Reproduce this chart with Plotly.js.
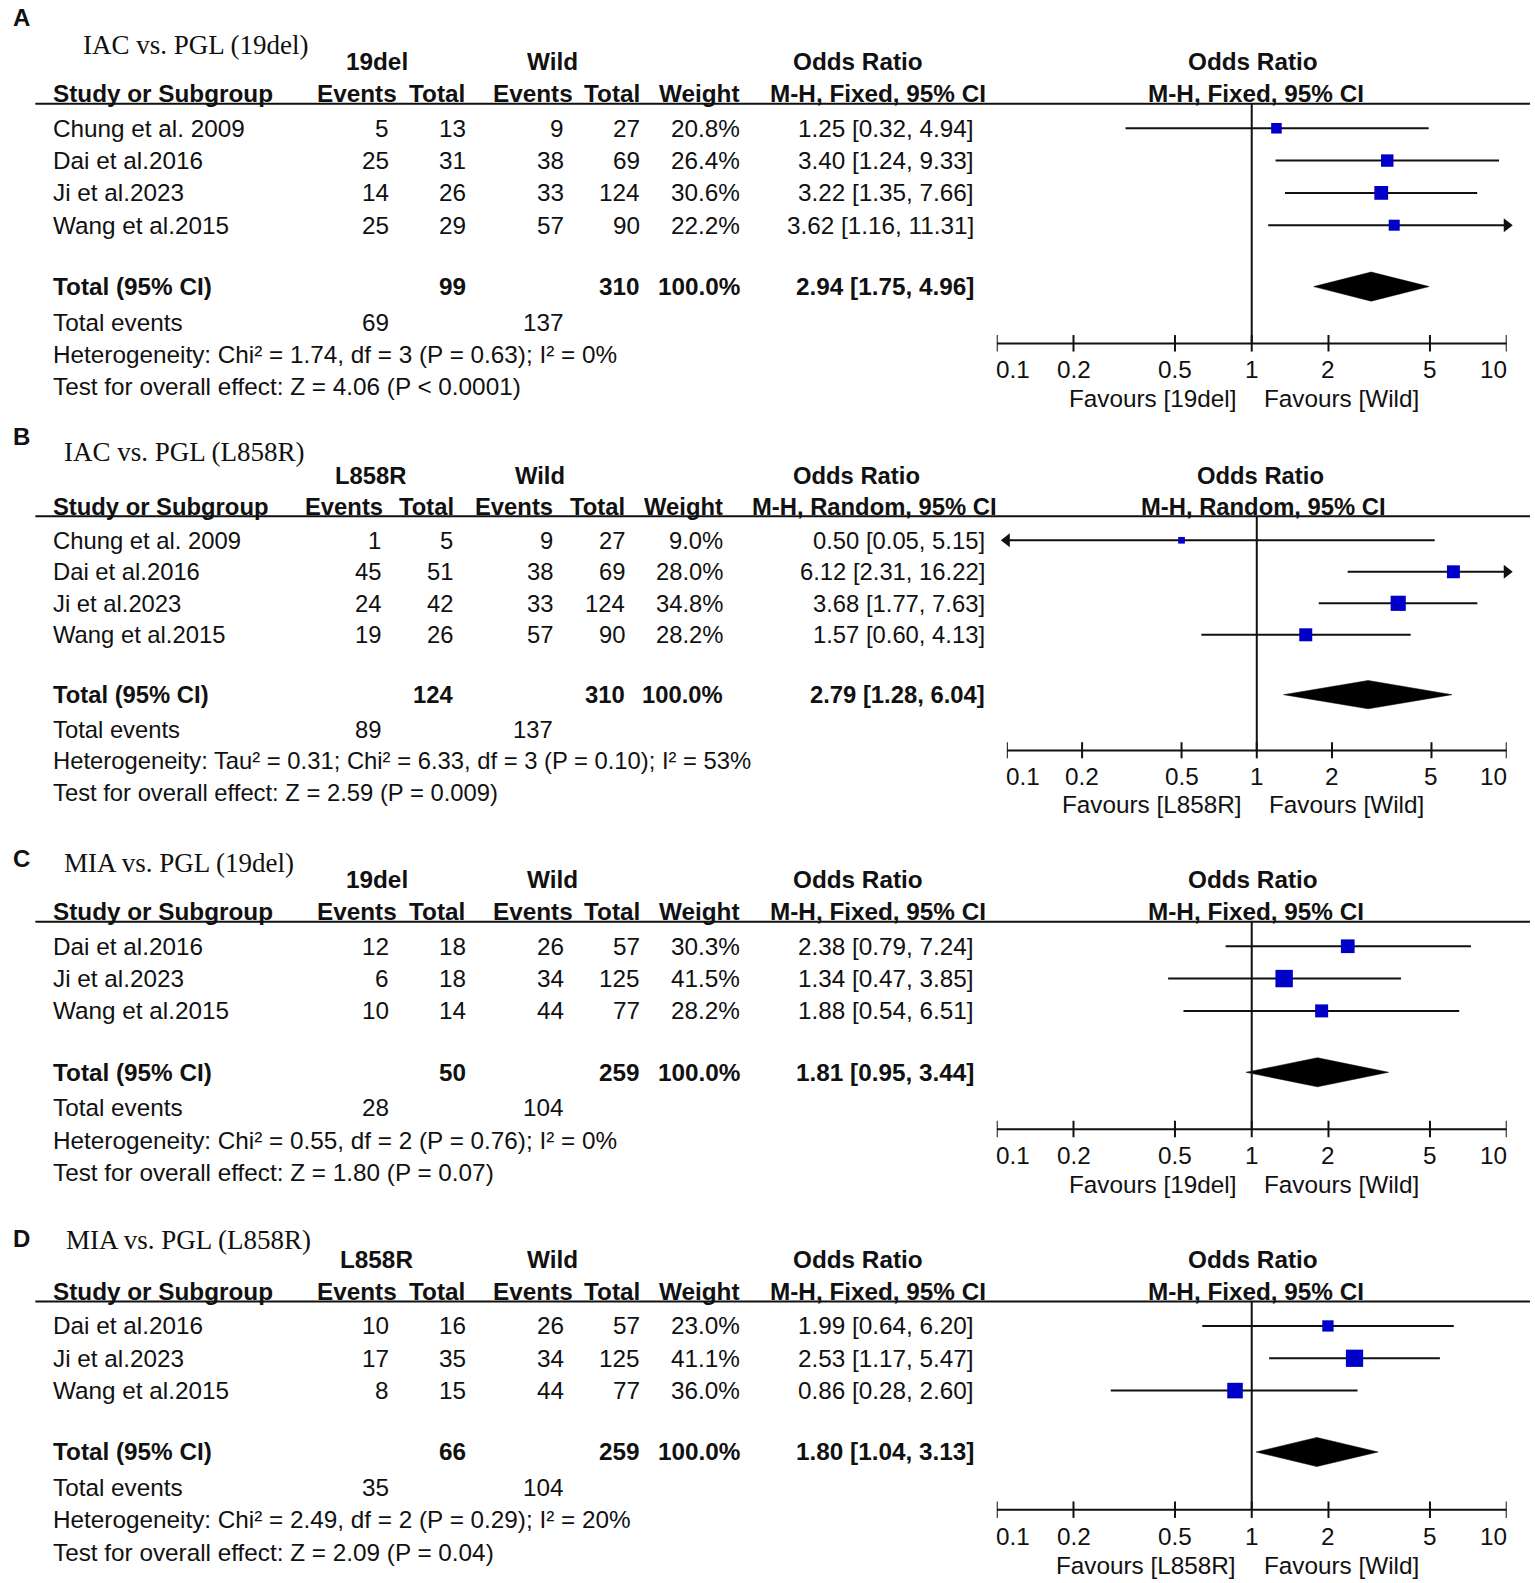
<!DOCTYPE html>
<html><head><meta charset="utf-8">
<script src="https://cdn.plot.ly/plotly-3.0.1.min.js"></script>
<style>html,body{margin:0;padding:0;background:#fff;overflow:hidden}#chart{width:1535px;height:1583px}</style>
</head><body><div id="chart"></div>
<script>
// ---------- DATA ----------
// Panel A
const A_title = "IAC vs. PGL (19del)";
const A_group = "19del";
const A_model = "M-H, Fixed, 95% CI";
const A_studies = ["Chung et al. 2009", "Dai et al.2016", "Ji et al.2023", "Wang et al.2015"];
const A_ev1 = [5, 25, 14, 25];
const A_tot1 = [13, 31, 26, 29];
const A_ev2 = [9, 38, 33, 57];
const A_tot2 = [27, 69, 124, 90];
const A_weight = [20.8, 26.4, 30.6, 22.2];
const A_or = [1.25, 3.40, 3.22, 3.62];
const A_lo = [0.32, 1.24, 1.35, 1.16];
const A_hi = [4.94, 9.33, 7.66, 11.31];
const A_totals = [99, 310, 100.0];
const A_totalOR = [2.94, 1.75, 4.96];
const A_totalEvents = [69, 137];
const A_het = "Heterogeneity: Chi² = 1.74, df = 3 (P = 0.63); I² = 0%";
const A_test = "Test for overall effect: Z = 4.06 (P < 0.0001)";

// Panel B
const B_title = "IAC vs. PGL (L858R)";
const B_group = "L858R";
const B_model = "M-H, Random, 95% CI";
const B_studies = ["Chung et al. 2009", "Dai et al.2016", "Ji et al.2023", "Wang et al.2015"];
const B_ev1 = [1, 45, 24, 19];
const B_tot1 = [5, 51, 42, 26];
const B_ev2 = [9, 38, 33, 57];
const B_tot2 = [27, 69, 124, 90];
const B_weight = [9.0, 28.0, 34.8, 28.2];
const B_or = [0.50, 6.12, 3.68, 1.57];
const B_lo = [0.05, 2.31, 1.77, 0.60];
const B_hi = [5.15, 16.22, 7.63, 4.13];
const B_totals = [124, 310, 100.0];
const B_totalOR = [2.79, 1.28, 6.04];
const B_totalEvents = [89, 137];
const B_het = "Heterogeneity: Tau² = 0.31; Chi² = 6.33, df = 3 (P = 0.10); I² = 53%";
const B_test = "Test for overall effect: Z = 2.59 (P = 0.009)";

// Panel C
const C_title = "MIA vs. PGL (19del)";
const C_group = "19del";
const C_model = "M-H, Fixed, 95% CI";
const C_studies = ["Dai et al.2016", "Ji et al.2023", "Wang et al.2015"];
const C_ev1 = [12, 6, 10];
const C_tot1 = [18, 18, 14];
const C_ev2 = [26, 34, 44];
const C_tot2 = [57, 125, 77];
const C_weight = [30.3, 41.5, 28.2];
const C_or = [2.38, 1.34, 1.88];
const C_lo = [0.79, 0.47, 0.54];
const C_hi = [7.24, 3.85, 6.51];
const C_totals = [50, 259, 100.0];
const C_totalOR = [1.81, 0.95, 3.44];
const C_totalEvents = [28, 104];
const C_het = "Heterogeneity: Chi² = 0.55, df = 2 (P = 0.76); I² = 0%";
const C_test = "Test for overall effect: Z = 1.80 (P = 0.07)";

// Panel D
const D_title = "MIA vs. PGL (L858R)";
const D_group = "L858R";
const D_model = "M-H, Fixed, 95% CI";
const D_studies = ["Dai et al.2016", "Ji et al.2023", "Wang et al.2015"];
const D_ev1 = [10, 17, 8];
const D_tot1 = [16, 35, 15];
const D_ev2 = [26, 34, 44];
const D_tot2 = [57, 125, 77];
const D_weight = [23.0, 41.1, 36.0];
const D_or = [1.99, 2.53, 0.86];
const D_lo = [0.64, 1.17, 0.28];
const D_hi = [6.20, 5.47, 2.60];
const D_totals = [66, 259, 100.0];
const D_totalOR = [1.80, 1.04, 3.13];
const D_totalEvents = [35, 104];
const D_het = "Heterogeneity: Chi² = 2.49, df = 2 (P = 0.29); I² = 20%";
const D_test = "Test for overall effect: Z = 2.09 (P = 0.04)";

const tickVals = [0.1, 0.2, 0.5, 1, 2, 5, 10];
const tickText = ["0.1", "0.2", "0.5", "1", "2", "5", "10"];

// ---------- BUILD ----------
const datasets = [
  {letter:"A", title:A_title, group:A_group, model:A_model, studies:A_studies, ev1:A_ev1, tot1:A_tot1, ev2:A_ev2, tot2:A_tot2, weight:A_weight, or:A_or, lo:A_lo, hi:A_hi, totals:A_totals, totalOR:A_totalOR, totalEvents:A_totalEvents, het:A_het, test:A_test},
  {letter:"B", title:B_title, group:B_group, model:B_model, studies:B_studies, ev1:B_ev1, tot1:B_tot1, ev2:B_ev2, tot2:B_tot2, weight:B_weight, or:B_or, lo:B_lo, hi:B_hi, totals:B_totals, totalOR:B_totalOR, totalEvents:B_totalEvents, het:B_het, test:B_test},
  {letter:"C", title:C_title, group:C_group, model:C_model, studies:C_studies, ev1:C_ev1, tot1:C_tot1, ev2:C_ev2, tot2:C_tot2, weight:C_weight, or:C_or, lo:C_lo, hi:C_hi, totals:C_totals, totalOR:C_totalOR, totalEvents:C_totalEvents, het:C_het, test:C_test},
  {letter:"D", title:D_title, group:D_group, model:D_model, studies:D_studies, ev1:D_ev1, tot1:D_tot1, ev2:D_ev2, tot2:D_tot2, weight:D_weight, or:D_or, lo:D_lo, hi:D_hi, totals:D_totals, totalOR:D_totalOR, totalEvents:D_totalEvents, het:D_het, test:D_test}
];

const W = 1535, H = 1583;
const K = 1535 / 1520;               // layout positions below are measured on a 1520-wide view
const px = v => v * K / W;
const py = v => 1 - v * K / H;
const TXT = '#111111';
const BLUE = '#0000c8';
const SANS = '"Liberation Sans", Arial, Helvetica, sans-serif';
const SERIF = '"Liberation Serif", "Times New Roman", serif';
const PAD_L = 3, PAD_R = 1;           // annotation box padding compensation

const colsFixed = {name:53, ev1:386, tot1:462, ev2:559, tot2:635, w:734, ci:965,
  hEv1:394, hTot1:461, hEv2:568, hTot2:635, hW:734, hModel:869, g1:373, g2:547, gOR:850, rHead:1241};
const colsB = {name:53, ev1:378, tot1:450, ev2:549, tot2:620, w:717, ci:976,
  hEv1:380, hTot1:451, hEv2:549, hTot2:620, hW:717, hModel:866, g1:367, g2:535, gOR:848, rHead:1248};

const panelsLayout = [
  {letterY:17, titleX:80, titleY:45, r0:127, s:32, top:0, bot:415, ax0:987, ax1:1492, axisOff:2.66, fs:24.3, cols:colsFixed, favL:14, favR:10},
  {letterY:432, titleX:61, titleY:448, r0:535, s:31.2, top:415, bot:820, ax0:997, ax1:1492, axisOff:2.67, fs:23.8, cols:colsB, favL:13, favR:10},
  {letterY:850, titleX:61, titleY:855, r0:937, s:32, top:820, bot:1195, ax0:987, ax1:1492, axisOff:2.66, fs:24.3, cols:colsFixed, favL:14, favR:10},
  {letterY:1226, titleX:63, titleY:1228, r0:1313, s:32, top:1195, bot:1566, ax0:987, ax1:1492, axisOff:2.69, fs:24.3, cols:colsFixed, favL:14, favR:10}
];

const traces = [], annotations = [], shapes = [];
const layout = {
  width: W, height: H, margin:{l:0, r:0, t:0, b:0},
  paper_bgcolor:'#ffffff', plot_bgcolor:'rgba(0,0,0,0)', showlegend:false,
  font:{family:SANS, color:TXT}
};

const XMIN = 0.1, XMAX = 10;
const clip = v => Math.min(XMAX, Math.max(XMIN, v));
const f2 = v => v.toFixed(2);
const ciText = (o, l, h) => f2(o) + " [" + f2(l) + ", " + f2(h) + "]";

panelsLayout.forEach((P, i) => {
  const D = datasets[i];
  const k = i === 0 ? '' : String(i + 1);
  const xa = 'x' + k, ya = 'y' + k;
  const n = D.studies.length;
  const rows = D.studies.map((_, j) => j);
  const rowHead1 = -2.07, rowHead2 = -1.08, rowLine = -0.76;
  const rowTotal = n + 0.9, rowTotEv = n + 2, rowHet = n + 3, rowTest = n + 4;
  const rowAxis = n + P.axisOff;
  const C = P.cols;

  layout['xaxis' + k] = {domain:[px(P.ax0), px(P.ax1)], type:'log', range:[Math.log10(XMIN), Math.log10(XMAX)],
    anchor:ya, visible:false, fixedrange:true};
  layout['yaxis' + k] = {domain:[py(P.bot), py(P.top)], range:[(P.bot - P.r0) / P.s, (P.top - P.r0) / P.s],
    anchor:xa, visible:false, fixedrange:true};

  const txt = (text, xPx, row, anchor) => annotations.push({
    text:text, x:px(xPx), xref:'paper', y:row, yref:ya, xanchor:anchor, yanchor:'middle',
    xshift: anchor === 'left' ? -PAD_L : (anchor === 'right' ? PAD_R : 0),
    showarrow:false, font:{family:SANS, size:P.fs, color:TXT}
  });

  // panel letter and title
  annotations.push({text:'<b>' + D.letter + '</b>', x:px(11), xref:'paper', y:py(P.letterY), yref:'paper',
    xanchor:'left', yanchor:'middle', showarrow:false, font:{family:SANS, size:24, color:TXT}});
  annotations.push({text:D.title, x:px(P.titleX), xref:'paper', y:py(P.titleY), yref:'paper',
    xanchor:'left', yanchor:'middle', showarrow:false, font:{family:SERIF, size:27, color:TXT}});

  // headers
  txt('<b>' + D.group + '</b>', C.g1, rowHead1, 'center');
  txt('<b>Wild</b>', C.g2, rowHead1, 'center');
  txt('<b>Odds Ratio</b>', C.gOR, rowHead1, 'center');
  txt('<b>Odds Ratio</b>', C.rHead, rowHead1, 'center');
  txt('<b>Study or Subgroup</b>', C.name, rowHead2, 'left');
  txt('<b>Events</b>', C.hEv1, rowHead2, 'right');
  txt('<b>Total</b>', C.hTot1, rowHead2, 'right');
  txt('<b>Events</b>', C.hEv2, rowHead2, 'right');
  txt('<b>Total</b>', C.hTot2, rowHead2, 'right');
  txt('<b>Weight</b>', C.hW, rowHead2, 'right');
  txt('<b>' + D.model + '</b>', C.hModel, rowHead2, 'center');
  txt('<b>' + D.model + '</b>', C.rHead + 3, rowHead2, 'center');

  // study rows
  rows.forEach(j => {
    txt(D.studies[j], C.name, j, 'left');
    txt(String(D.ev1[j]), C.ev1, j, 'right');
    txt(String(D.tot1[j]), C.tot1, j, 'right');
    txt(String(D.ev2[j]), C.ev2, j, 'right');
    txt(String(D.tot2[j]), C.tot2, j, 'right');
    txt(D.weight[j].toFixed(1) + '%', C.w, j, 'right');
    txt(ciText(D.or[j], D.lo[j], D.hi[j]), C.ci, j, 'right');
  });
  // total row
  txt('<b>Total (95% CI)</b>', C.name, rowTotal, 'left');
  txt('<b>' + D.totals[0] + '</b>', C.tot1, rowTotal, 'right');
  txt('<b>' + D.totals[1] + '</b>', C.tot2, rowTotal, 'right');
  txt('<b>' + D.totals[2].toFixed(1) + '%</b>', C.w, rowTotal, 'right');
  txt('<b>' + ciText(D.totalOR[0], D.totalOR[1], D.totalOR[2]) + '</b>', C.ci, rowTotal, 'right');
  txt('Total events', C.name, rowTotEv, 'left');
  txt(String(D.totalEvents[0]), C.ev1, rowTotEv, 'right');
  txt(String(D.totalEvents[1]), C.ev2, rowTotEv, 'right');
  txt(D.het, C.name, rowHet, 'left');
  txt(D.test, C.name, rowTest, 'left');

  // header line across
  shapes.push({type:'line', xref:'paper', yref:ya, x0:px(35), x1:px(1515), y0:rowLine, y1:rowLine,
    line:{color:TXT, width:2}});
  // vertical line at OR = 1
  shapes.push({type:'line', xref:xa, yref:ya, x0:1, x1:1, y0:rowLine, y1:rowAxis, line:{color:TXT, width:2}});
  // axis line
  shapes.push({type:'line', xref:xa, yref:ya, x0:XMIN, x1:XMAX, y0:rowAxis, y1:rowAxis, line:{color:TXT, width:2}});
  // ticks crossing the axis
  tickVals.forEach((tv, t) => {
    shapes.push({type:'line', xref:xa, yref:ya, x0:tv, x1:tv, y0:rowAxis - 0.26, y1:rowAxis + 0.25,
      line:{color:TXT, width:2}});
    annotations.push({text:tickText[t], x:Math.log10(tv), xref:xa, y:rowAxis + 0.82, yref:ya,
      xanchor: t === 0 ? 'left' : (t === tickVals.length - 1 ? 'right' : 'center'),
      xshift: t === 0 ? -3 : (t === tickVals.length - 1 ? 2 : 0),
      yanchor:'middle', showarrow:false, font:{family:SANS, size:24.3, color:TXT}});
  });
  // favours labels
  annotations.push({text:'Favours [' + D.group + ']', x:0, xref:xa, y:rowAxis + 1.71, yref:ya,
    xanchor:'right', xshift:-P.favL, yanchor:'middle', showarrow:false, font:{family:SANS, size:24.3, color:TXT}});
  annotations.push({text:'Favours [Wild]', x:0, xref:xa, y:rowAxis + 1.71, yref:ya,
    xanchor:'left', xshift:P.favR, yanchor:'middle', showarrow:false, font:{family:SANS, size:24.3, color:TXT}});

  // CI lines
  const lx = [], ly = [];
  const arR = {x:[], y:[]}, arL = {x:[], y:[]};
  rows.forEach(j => {
    lx.push(clip(D.lo[j]), clip(D.hi[j]), null);
    ly.push(j, j, null);
    if (D.hi[j] > XMAX) { arR.x.push(XMAX); arR.y.push(j); }
    if (D.lo[j] < XMIN) { arL.x.push(XMIN); arL.y.push(j); }
  });
  traces.push({type:'scatter', mode:'lines', x:lx, y:ly, xaxis:xa, yaxis:ya,
    line:{color:TXT, width:2}, hoverinfo:'skip', cliponaxis:false});
  if (arR.x.length) traces.push({type:'scatter', mode:'markers', x:arR.x, y:arR.y, xaxis:xa, yaxis:ya,
    marker:{symbol:'triangle-right', size:12, color:TXT, opacity:1}, cliponaxis:false, hoverinfo:'skip'});
  if (arL.x.length) traces.push({type:'scatter', mode:'markers', x:arL.x, y:arL.y, xaxis:xa, yaxis:ya,
    marker:{symbol:'triangle-left', size:12, color:TXT, opacity:1}, cliponaxis:false, hoverinfo:'skip'});
  // squares (side grows with study weight)
  traces.push({type:'scatter', mode:'markers', x:D.or, y:rows, xaxis:xa, yaxis:ya,
    marker:{symbol:'square', size:D.weight.map(w => 3.7 + 0.33 * w), color:BLUE, opacity:1, line:{width:0}},
    cliponaxis:false, hoverinfo:'x'});
  // diamond
  const hh = 0.45;
  traces.push({type:'scatter', mode:'lines', fill:'toself', fillcolor:'#000000',
    x:[D.totalOR[1], D.totalOR[0], D.totalOR[2], D.totalOR[0], D.totalOR[1]],
    y:[rowTotal, rowTotal - hh, rowTotal, rowTotal + hh, rowTotal],
    xaxis:xa, yaxis:ya, line:{color:'#000000', width:0.5}, hoverinfo:'skip'});
});

layout.annotations = annotations;
layout.shapes = shapes;
Plotly.newPlot('chart', traces, layout, {displayModeBar:false, staticPlot:true});
</script>
</body></html>
